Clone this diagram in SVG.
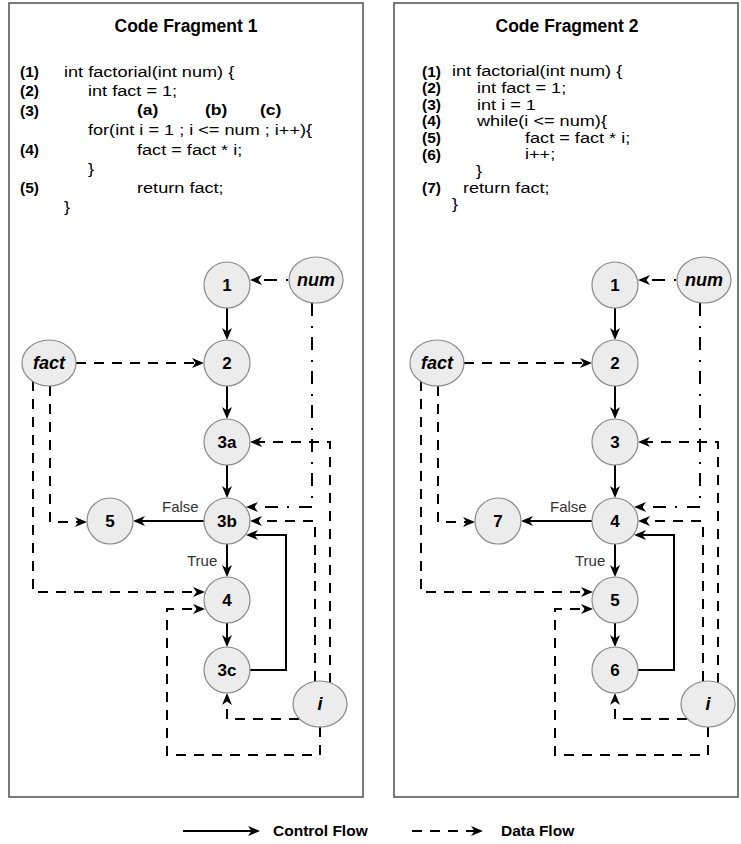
<svg xmlns="http://www.w3.org/2000/svg" width="741" height="844" viewBox="0 0 741 844">
<style>
.panel{fill:#fff;stroke:#4d4d4d;stroke-width:1.5}
.title{font-family:"Liberation Sans",Arial,sans-serif;font-weight:bold;font-size:17.5px;text-anchor:middle;fill:#000}
.lbl{font-family:"Liberation Sans",Arial,sans-serif;font-weight:bold;font-size:15.5px;fill:#000}
.sub{font-family:"Liberation Sans",Arial,sans-serif;font-weight:bold;font-size:15px;fill:#000}
.code{font-family:"Liberation Sans",Arial,sans-serif;font-size:15.5px;fill:#000}
.node{fill:#ececec;stroke:#8a8a8a;stroke-width:1.2}
.nt{font-family:"Liberation Sans",Arial,sans-serif;font-weight:bold;font-size:17px;text-anchor:middle;fill:#000}
.vt{font-family:"Liberation Sans",Arial,sans-serif;font-weight:bold;font-style:italic;font-size:18px;text-anchor:middle;fill:#000}
.cf{fill:none;stroke:#000;stroke-width:2;marker-end:url(#arr)}
.df{fill:none;stroke:#000;stroke-width:2;stroke-dasharray:10 8;marker-end:url(#arr)}
.dd{fill:none;stroke:#000;stroke-width:2;stroke-dasharray:13 10 2 9;marker-end:url(#arr)}
.el{font-family:"Liberation Sans",Arial,sans-serif;font-size:15px;fill:#333}
.leg{font-family:"Liberation Sans",Arial,sans-serif;font-weight:bold;font-size:15.5px;fill:#000}
</style>
<defs>
<marker id="arr" viewBox="0 0 12 10" refX="10" refY="5" markerWidth="12" markerHeight="10" markerUnits="userSpaceOnUse" orient="auto">
<path d="M0,0 L12,5 L0,10 L3.5,5 Z" fill="#000"/>
</marker>
</defs>

<rect class="panel" x="9" y="3" width="354" height="794"/>
<rect class="panel" x="394" y="3" width="344" height="794"/>

<g id="code1">
<text class="title" x="186" y="32">Code Fragment 1</text>
<text class="lbl" x="20" y="77">(1)</text>
<text class="lbl" x="20" y="96">(2)</text>
<text class="lbl" x="20" y="115.5">(3)</text>
<text class="lbl" x="20" y="155">(4)</text>
<text class="lbl" x="20" y="193">(5)</text>
<g transform="scale(1.17,1)">
<text class="code" x="54.7" y="77">int factorial(int num) {</text>
<text class="code" x="75.2" y="96">int fact = 1;</text>
<text class="sub" x="117.1" y="115.5">(a)</text>
<text class="sub" x="175.2" y="115.5">(b)</text>
<text class="sub" x="222.2" y="115.5">(c)</text>
<text class="code" x="75.2" y="135">for(int i = 1 ; i &lt;= num ; i++){</text>
<text class="code" x="117.1" y="155">fact = fact * i;</text>
<text class="code" x="75.2" y="174">}</text>
<text class="code" x="117.1" y="193">return fact;</text>
<text class="code" x="54.7" y="212">}</text>
</g>
</g>

<g id="code2">
<text class="title" x="567" y="32">Code Fragment 2</text>
<text class="lbl" x="422" y="76.5">(1)</text>
<text class="lbl" x="422" y="93.1">(2)</text>
<text class="lbl" x="422" y="109.7">(3)</text>
<text class="lbl" x="422" y="126.3">(4)</text>
<text class="lbl" x="422" y="142.9">(5)</text>
<text class="lbl" x="422" y="159.5">(6)</text>
<text class="lbl" x="422" y="192.7">(7)</text>
<g transform="scale(1.17,1)">
<text class="code" x="386.3" y="76.5">int factorial(int num) {</text>
<text class="code" x="407.7" y="93.1">int fact = 1;</text>
<text class="code" x="407.7" y="109.7">int i = 1</text>
<text class="code" x="407.7" y="126.3">while(i &lt;= num){</text>
<text class="code" x="448.7" y="142.9">fact = fact * i;</text>
<text class="code" x="448.7" y="159.5">i++;</text>
<text class="code" x="406.8" y="176.1">}</text>
<text class="code" x="395.7" y="192.7">return fact;</text>
<text class="code" x="386.3" y="209.3">}</text>
</g>
</g>

<!-- Graph 1 -->
<g id="edges1">
<path class="cf" d="M227,308 L227,338"/>
<path class="cf" d="M227,386 L227,417"/>
<path class="cf" d="M227,465 L227,496"/>
<path class="cf" d="M204,521 L135,521"/>
<path class="cf" d="M227,544 L227,575"/>
<path class="cf" d="M227,623 L227,645"/>
<path class="cf" d="M250,670 L286,670 L286,535 L248,535"/>
<path class="df" d="M76,363 L202,363"/>
<path class="df" d="M50,386 L50,522 L85,522"/>
<path class="df" d="M33,381 L33,592 L203,592"/>
<path class="df" d="M320,727 L320,755 L167,755 L167,609 L203,609"/>
<path class="df" d="M299,719 L227,719 L227,695"/>
<path class="df" d="M315,681 L315,521 L252,521"/>
<path class="df" d="M330,683 L330,442 L252,442"/>
<path class="dd" d="M289,280 L252,280" stroke-dashoffset="-12"/>
<path class="dd" d="M312,303 L312,507 L248,507"/>
<text class="el" x="162" y="512">False</text>
<text class="el" x="187" y="566">True</text>
</g>
<g id="n1_1"><circle class="node" cx="227" cy="285" r="23"/><text class="nt" x="227" y="291">1</text></g>
<g id="n1_2"><circle class="node" cx="227" cy="363" r="23"/><text class="nt" x="227" y="369">2</text></g>
<g id="n1_3a"><circle class="node" cx="227" cy="442" r="23"/><text class="nt" x="227" y="448">3a</text></g>
<g id="n1_3b"><circle class="node" cx="227" cy="521" r="23"/><text class="nt" x="227" y="527">3b</text></g>
<g id="n1_5"><circle class="node" cx="110" cy="521" r="23"/><text class="nt" x="110" y="527">5</text></g>
<g id="n1_4"><circle class="node" cx="227" cy="600" r="23"/><text class="nt" x="227" y="606">4</text></g>
<g id="n1_3c"><circle class="node" cx="227" cy="670" r="23"/><text class="nt" x="227" y="676">3c</text></g>
<g id="v1_num"><ellipse class="node" cx="316" cy="280" rx="27" ry="23"/><text class="vt" x="316" y="286">num</text></g>
<g id="v1_fact"><ellipse class="node" cx="49" cy="363" rx="27" ry="23"/><text class="vt" x="49" y="369">fact</text></g>
<g id="v1_i"><ellipse class="node" cx="320" cy="704" rx="27" ry="23"/><text class="vt" x="320" y="710">i</text></g>

<!-- Graph 2 -->
<g transform="translate(388,0)">
<g id="edges2">
<path class="cf" d="M227,308 L227,338"/>
<path class="cf" d="M227,386 L227,417"/>
<path class="cf" d="M227,465 L227,496"/>
<path class="cf" d="M204,521 L135,521"/>
<path class="cf" d="M227,544 L227,575"/>
<path class="cf" d="M227,623 L227,645"/>
<path class="cf" d="M250,670 L286,670 L286,535 L248,535"/>
<path class="df" d="M76,363 L202,363"/>
<path class="df" d="M50,386 L50,522 L85,522"/>
<path class="df" d="M33,381 L33,592 L203,592"/>
<path class="df" d="M320,727 L320,755 L167,755 L167,609 L203,609"/>
<path class="df" d="M299,719 L227,719 L227,695"/>
<path class="df" d="M315,681 L315,521 L252,521"/>
<path class="df" d="M330,683 L330,442 L252,442"/>
<path class="dd" d="M289,280 L252,280" stroke-dashoffset="-12"/>
<path class="dd" d="M312,303 L312,507 L248,507"/>
<text class="el" x="162" y="512">False</text>
<text class="el" x="187" y="566">True</text>
</g>
<g id="n2_1"><circle class="node" cx="227" cy="285" r="23"/><text class="nt" x="227" y="291">1</text></g>
<g id="n2_2"><circle class="node" cx="227" cy="363" r="23"/><text class="nt" x="227" y="369">2</text></g>
<g id="n2_3"><circle class="node" cx="227" cy="442" r="23"/><text class="nt" x="227" y="448">3</text></g>
<g id="n2_4"><circle class="node" cx="227" cy="521" r="23"/><text class="nt" x="227" y="527">4</text></g>
<g id="n2_7"><circle class="node" cx="110" cy="521" r="23"/><text class="nt" x="110" y="527">7</text></g>
<g id="n2_5"><circle class="node" cx="227" cy="600" r="23"/><text class="nt" x="227" y="606">5</text></g>
<g id="n2_6"><circle class="node" cx="227" cy="670" r="23"/><text class="nt" x="227" y="676">6</text></g>
<g id="v2_num"><ellipse class="node" cx="316" cy="280" rx="27" ry="23"/><text class="vt" x="316" y="286">num</text></g>
<g id="v2_fact"><ellipse class="node" cx="49" cy="363" rx="27" ry="23"/><text class="vt" x="49" y="369">fact</text></g>
<g id="v2_i"><ellipse class="node" cx="320" cy="704" rx="27" ry="23"/><text class="vt" x="320" y="710">i</text></g>
</g>

<g id="legend">
<path class="cf" d="M183,831 L258,831"/>
<text class="leg" x="273" y="836">Control Flow</text>
<path class="df" d="M412,831 L481,831"/>
<text class="leg" x="501" y="836">Data Flow</text>
</g>
</svg>
